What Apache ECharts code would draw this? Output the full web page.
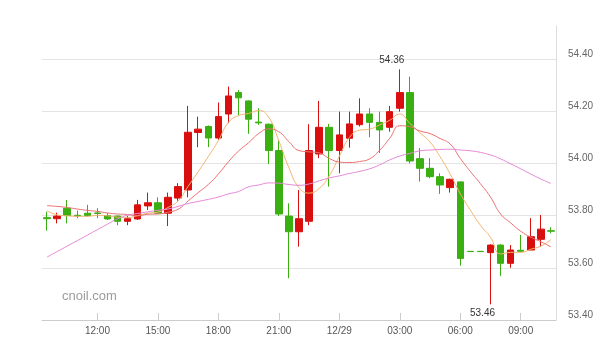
<!DOCTYPE html>
<html>
<head>
<meta charset="utf-8">
<script src="https://cdn.jsdelivr.net/npm/echarts/dist/echarts.min.js"></script>
<style>
  html, body { margin: 0; padding: 0; background: #fff; }
  #chart { width: 612px; height: 351px; }
</style>
</head>
<body>
<div id="chart"></div>
<script>
// 30 minute bars, 12/28 09:30 -> 12/29 10:30
var categories = [
  '12/28 09:30', '12/28 10:00', '12/28 10:30', '12/28 11:00', '12/28 11:30', '12/28 12:00',
  '12/28 12:30', '12/28 13:00', '12/28 13:30', '12/28 14:00', '12/28 14:30', '12/28 15:00',
  '12/28 15:30', '12/28 16:00', '12/28 16:30', '12/28 17:00', '12/28 17:30', '12/28 18:00',
  '12/28 18:30', '12/28 19:00', '12/28 19:30', '12/28 20:00', '12/28 20:30', '12/28 21:00',
  '12/28 21:30', '12/28 22:00', '12/28 22:30', '12/28 23:00', '12/28 23:30', '12/29 00:00',
  '12/29 00:30', '12/29 01:00', '12/29 01:30', '12/29 02:00', '12/29 02:30', '12/29 03:00',
  '12/29 03:30', '12/29 04:00', '12/29 04:30', '12/29 05:00', '12/29 05:30', '12/29 06:00',
  '12/29 06:30', '12/29 07:00', '12/29 07:30', '12/29 08:00', '12/29 08:30', '12/29 09:00',
  '12/29 09:30', '12/29 10:00', '12/29 10:30'
];

var openData = [
  53.792, 53.788, 53.828, 53.801, 53.809, 53.810, 53.800, 53.798, 53.778, 53.787,
  53.837, 53.849, 53.809, 53.867, 53.898, 54.118, 54.141, 54.097, 54.189, 54.271,
  54.239, 54.158, 54.150, 54.049, 53.798, 53.738, 53.778, 54.036, 54.138, 54.049,
  54.096, 54.148, 54.189, 54.157, 54.138, 54.211, 54.271, 54.018, 53.981, 53.949,
  53.907, 53.929, 53.663, 53.663, 53.658, 53.687, 53.617, 53.667, 53.668, 53.709,
  53.742
];
var closeData = [
  53.788, 53.798, 53.800, 53.799, 53.800, 53.808, 53.787, 53.778, 53.788, 53.841,
  53.849, 53.809, 53.870, 53.911, 54.119, 54.131, 54.097, 54.179, 54.258, 54.251,
  54.169, 54.155, 54.049, 53.806, 53.738, 53.788, 54.049, 54.138, 54.049, 54.109,
  54.151, 54.189, 54.157, 54.128, 54.198, 54.271, 54.009, 53.981, 53.949, 53.917,
  53.939, 53.636, 53.662, 53.662, 53.687, 53.617, 53.668, 53.663, 53.719, 53.748,
  53.740
];
var lowData = [
  53.742, 53.770, 53.770, 53.790, 53.796, 53.790, 53.783, 53.763, 53.763, 53.783,
  53.821, 53.806, 53.760, 53.857, 53.870, 54.062, 54.062, 54.090, 54.154, 54.184,
  54.113, 54.147, 53.998, 53.798, 53.560, 53.681, 53.763, 54.020, 53.911, 53.962,
  54.060, 54.141, 54.100, 54.039, 54.121, 54.198, 54.000, 53.930, 53.943, 53.883,
  53.888, 53.608, 53.662, 53.662, 53.460, 53.569, 53.600, 53.662, 53.668, 53.681,
  53.732
];
var highData = [
  53.815, 53.811, 53.860, 53.819, 53.841, 53.828, 53.809, 53.800, 53.798, 53.860,
  53.888, 53.870, 53.888, 53.924, 54.220, 54.179, 54.145, 54.233, 54.294, 54.281,
  54.241, 54.211, 54.152, 54.090, 53.847, 53.898, 54.150, 54.239, 54.151, 54.198,
  54.198, 54.249, 54.211, 54.198, 54.220, 54.360, 54.332, 54.058, 54.020, 53.962,
  53.941, 53.930, 53.663, 53.663, 53.690, 53.690, 53.687, 53.726, 53.790, 53.802,
  53.755
];

var ma5 = [
  53.818, 53.803, 53.799, 53.797, 53.797, 53.801, 53.799, 53.794, 53.792, 53.800,
  53.809, 53.813, 53.831, 53.856, 53.912, 53.968, 54.026, 54.087, 54.157, 54.183,
  54.191, 54.202, 54.176, 54.086, 53.983, 53.907, 53.886, 53.904, 53.952, 54.027,
  54.099, 54.127, 54.131, 54.147, 54.165, 54.189, 54.153, 54.117, 54.082, 54.025,
  53.959, 53.884, 53.821, 53.763, 53.717, 53.653, 53.659, 53.659, 53.671, 53.683,
  53.708
];
var ma10 = [
  53.838, 53.835, 53.831, 53.825, 53.820, 53.816, 53.810, 53.806, 53.804, 53.799,
  53.805, 53.806, 53.813, 53.824, 53.856, 53.888, 53.919, 53.959, 54.006, 54.047,
  54.079, 54.114, 54.132, 54.121, 54.083, 54.049, 54.044, 54.040, 54.019, 54.005,
  54.003, 54.007, 54.017, 54.050, 54.096, 54.144, 54.140, 54.124, 54.114, 54.095,
  54.074, 54.019, 53.969, 53.922, 53.871, 53.806, 53.772, 53.740, 53.717, 53.700,
  53.680
];
var ma30 = [
  53.641, 53.662, 53.683, 53.704, 53.725, 53.746, 53.767, 53.788, 53.801, 53.808,
  53.814, 53.820, 53.825, 53.835, 53.846, 53.854, 53.862, 53.871, 53.883, 53.892,
  53.910, 53.917, 53.925, 53.924, 53.919, 53.916, 53.921, 53.933, 53.944, 53.952,
  53.961, 53.969, 53.979, 53.994, 54.013, 54.028, 54.038, 54.048, 54.051, 54.053,
  54.054, 54.051, 54.048, 54.042, 54.032, 54.017, 53.998, 53.979, 53.959, 53.940,
  53.923
];

var upColor = '#d90f0f';
var downColor = '#3aaf12';

var candles = [];
for (var i = 0; i < categories.length; i++) {
  candles.push([openData[i], closeData[i], lowData[i], highData[i]]);
}

// only every 3rd full hour gets a label
var showHour = function (index, value) {
  var t = value.split(' ')[1];
  return t.slice(3) === '00' && parseInt(t, 10) % 3 === 0;
};

var dom = document.getElementById('chart');
var myChart = echarts.init(dom);
var option = {
  animation: false,
  grid: {
    left: 42,
    right: 56,
    top: 26,
    bottom: 31
  },
  graphic: [
    {
      type: 'text',
      left: 62,
      top: 290,
      style: {
        text: 'cnoil.com',
        fill: '#9c9c9c',
        font: '13px "Liberation Sans", Arial, sans-serif'
      }
    }
  ],
  xAxis: {
    type: 'category',
    data: categories,
    boundaryGap: true,
    axisLine: { lineStyle: { color: '#cccccc' } },
    axisTick: {
      show: true,
      inside: true,
      length: 7,
      alignWithLabel: true,
      interval: showHour,
      lineStyle: { color: '#cccccc' }
    },
    axisLabel: {
      interval: showHour,
      margin: 6,
      color: '#555',
      fontSize: 10,
      fontFamily: 'Liberation Sans',
      formatter: function (value) {
        var p = value.split(' ');
        return p[1] === '00:00' ? p[0] : p[1];
      }
    },
    splitLine: { show: false }
  },
  yAxis: {
    type: 'value',
    position: 'right',
    min: 53.4,
    max: 54.526,
    interval: 0.2,
    axisLine: { show: true, lineStyle: { color: '#dddddd' } },
    axisTick: { show: false },
    axisLabel: {
      color: '#666',
      fontSize: 10,
      fontFamily: 'Liberation Sans',
      margin: 12,
      verticalAlign: 'bottom',
      showMaxLabel: false,
      formatter: function (v) { return v.toFixed(2); }
    },
    splitLine: {
      show: true,
      showMaxLine: false,
      lineStyle: { color: '#e4e4e4' }
    }
  },
  series: [
    {
      name: 'K',
      type: 'candlestick',
      data: candles,
      barWidth: 7,
      itemStyle: {
        color: upColor,
        color0: downColor,
        borderColor: upColor,
        borderColor0: downColor,
        borderWidth: 1
      },
      markPoint: {
        symbol: 'circle',
        symbolSize: 1,
        itemStyle: { color: 'rgba(0,0,0,0)' },
        label: {
          color: '#333',
          fontSize: 10,
          fontFamily: 'Liberation Sans',
          offset: [-8, 0],
          formatter: function (p) { return Number(p.value).toFixed(2); }
        },
        data: [
          { type: 'max', valueDim: 'highest', label: { position: 'top', distance: 4 } },
          { type: 'min', valueDim: 'lowest', label: { position: 'bottom', distance: 3 } }
        ]
      }
    },
    {
      name: 'MA5',
      type: 'line',
      data: ma5,
      smooth: true,
      symbol: 'none',
      lineStyle: { width: 1, color: '#f5b36c' }
    },
    {
      name: 'MA10',
      type: 'line',
      data: ma10,
      smooth: true,
      symbol: 'none',
      lineStyle: { width: 1, color: '#ea6f6f' }
    },
    {
      name: 'MA30',
      type: 'line',
      data: ma30,
      smooth: true,
      symbol: 'none',
      lineStyle: { width: 1, color: '#e587d6' }
    }
  ]
};
if (option && typeof option === 'object') {
  myChart.setOption(option, true);
}
</script>
</body>
</html>
